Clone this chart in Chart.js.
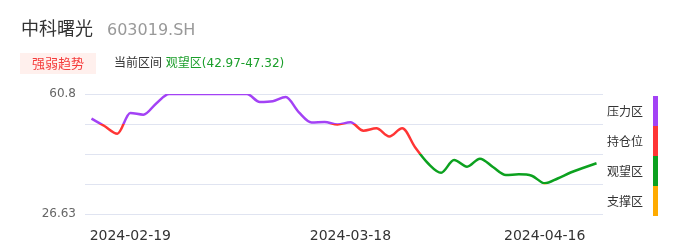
<!DOCTYPE html>
<html>
<head>
<meta charset="utf-8">
<script src="https://cdn.jsdelivr.net/npm/chart.js@4/dist/chart.umd.min.js"></script>
<style>
  body { margin: 0; background: #fff; font-family: "DejaVu Sans", "Noto Sans CJK SC", sans-serif; }
  #wrap { position: relative; width: 686px; height: 247px; overflow: hidden; }
  #chart { position: absolute; left: 0; top: 0; }
  .title { position: absolute; left: 21px; top: 17px; font-size: 18px; line-height: 24px; color: #333; white-space: nowrap; }
  .title .code { font-size: 16px; color: #999; margin-left: 14px; }
  .badge { position: absolute; left: 20px; top: 53px; width: 76px; height: 21px; line-height: 21px; text-align: center;
           background: #fff0ed; color: #f53b3b; font-size: 13px; }
  .range { position: absolute; left: 114px; top: 53px; line-height: 21px; font-size: 12px; color: #333; white-space: nowrap; }
  .range span { color: #1a9e2a; }
</style>
</head>
<body>
<div id="wrap">
  <canvas id="chart" width="686" height="247"></canvas>
  <div class="title">中科曙光<span class="code">603019.SH</span></div>
  <div class="badge">强弱趋势</div>
  <div class="range">当前区间 <span>观望区(42.97-47.32)</span></div>
</div>
<script>
// dates on the x axis (only a few are printed)
const dates = [
  "2024-02-06", "2024-02-07", "2024-02-08", "2024-02-19", "2024-02-20",
  "2024-02-21", "2024-02-22", "2024-02-23", "2024-02-26", "2024-02-27",
  "2024-02-28", "2024-02-29", "2024-03-01", "2024-03-04", "2024-03-05",
  "2024-03-07", "2024-03-08", "2024-03-11", "2024-03-13", "2024-03-14",
  "2024-03-18", "2024-03-19", "2024-03-20", "2024-03-21", "2024-03-22",
  "2024-03-25", "2024-03-27", "2024-03-28", "2024-03-29", "2024-04-01",
  "2024-04-02", "2024-04-08", "2024-04-09", "2024-04-11", "2024-04-12",
  "2024-04-16", "2024-04-17", "2024-04-18", "2024-04-19", "2024-04-22"
];
const shownDates = ["2024-02-19", "2024-03-18", "2024-04-16"];

// strength line
const strength = [
  53.77, 51.69, 49.50, 55.39, 54.91, 58.10, 60.80, 60.80, 60.80, 60.80,
  60.80, 60.80, 60.80, 58.52, 58.72, 59.95, 55.67, 52.69, 52.83, 52.12,
  52.74, 50.35, 51.03, 48.70, 51.03, 45.57, 41.01, 38.39, 42.01, 40.10,
  42.38, 40.01, 37.74, 37.93, 37.54, 35.37, 36.74, 38.45, 39.79, 41.07
];

const yMin = 26.63;
const yMax = 60.8;
const zoneNames = ["压力区", "持仓位", "观望区", "支撑区"];
const zoneColors = ["#a342f5", "#ff3535", "#0ca11f", "#ffab00"];

function zoneGradient(chart) {
  const { ctx, scales } = chart;
  const top = scales.y.getPixelForValue(yMax);
  const bottom = scales.y.getPixelForValue(yMin);
  const g = ctx.createLinearGradient(0, top, 0, bottom);
  const n = zoneColors.length;
  zoneColors.forEach((c, i) => {
    g.addColorStop(i / n, c);
    g.addColorStop((i + 1) / n, c);
  });
  return g;
}

// zone names + colour bar on the right
const zoneLegend = {
  id: "zoneLegend",
  afterDraw(chart) {
    const { ctx, chartArea, scales } = chart;
    const step = (yMax - yMin) / zoneNames.length;
    ctx.save();
    ctx.font = '12px "Noto Sans CJK SC", "DejaVu Sans", sans-serif';
    ctx.textBaseline = "middle";
    zoneNames.forEach((name, i) => {
      const y0 = scales.y.getPixelForValue(yMax - step * i) + 2;
      const y1 = scales.y.getPixelForValue(yMax - step * (i + 1)) + 2;
      ctx.fillStyle = zoneColors[i];
      ctx.fillRect(chartArea.right + 50, y0, 5, y1 - y0);
      ctx.fillStyle = "#333";
      ctx.fillText(name, chartArea.right + 4, (y0 + y1) / 2);
    });
    ctx.restore();
  },
};

new Chart(document.getElementById("chart"), {
  type: "line",
  data: {
    labels: dates,
    datasets: [
      {
        data: strength,
        borderColor: (c) => (c.chart.chartArea ? zoneGradient(c.chart) : zoneColors[0]),
        borderWidth: 2.5,
        pointRadius: 0,
        cubicInterpolationMode: "monotone",
        fill: false,
      },
    ],
  },
  options: {
    responsive: false,
    animation: false,
    layout: { padding: { top: 94, right: 83, bottom: 0, left: 0 } },
    plugins: { legend: { display: false }, tooltip: { enabled: false } },
    scales: {
      x: {
        type: "category",
        offset: true,
        afterFit: (axis) => { axis.height = 33; },
        grid: { display: false },
        border: { display: false },
        ticks: {
          autoSkip: false,
          maxRotation: 0,
          padding: 6,
          color: "#333",
          font: { size: 14, family: "DejaVu Sans" },
          callback: function (v) {
            const d = this.getLabelForValue(v);
            return shownDates.includes(d) ? d : "";
          },
        },
      },
      y: {
        min: yMin,
        max: yMax,
        afterFit: (axis) => { axis.width = 85; },
        afterBuildTicks: (axis) => {
          axis.ticks = [0, 1, 2, 3, 4].map((i) => ({
            value: i === 0 ? yMin : i === 4 ? yMax : yMin + ((yMax - yMin) * i) / 4,
          }));
        },
        border: { display: false },
        grid: { color: "#e0e4f1", drawTicks: false },
        ticks: {
          padding: 9,
          color: "#666",
          font: { size: 12, family: "DejaVu Sans" },
          callback: (v, i, ticks) => (i === 0 || i === ticks.length - 1 ? String(v) : ""),
        },
      },
    },
  },
  plugins: [zoneLegend],
});
</script>
</body>
</html>
